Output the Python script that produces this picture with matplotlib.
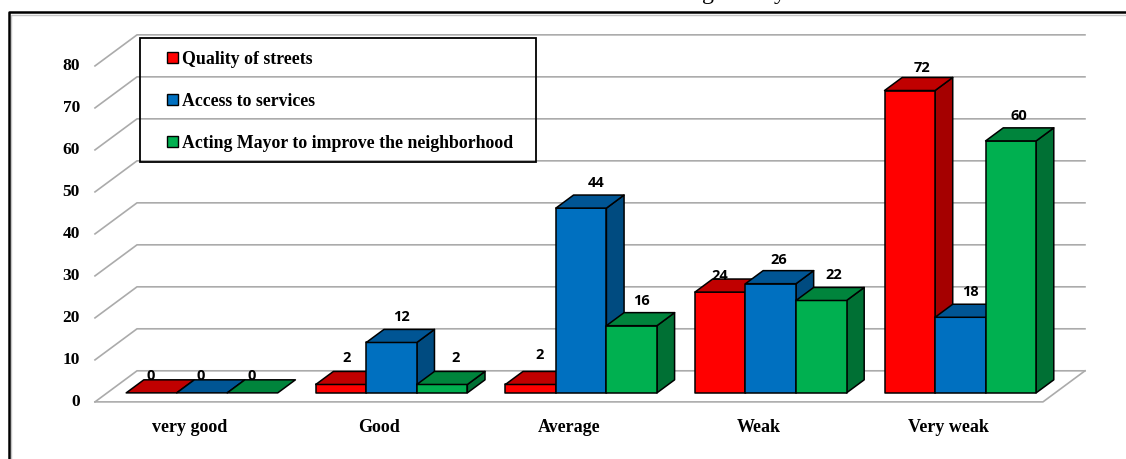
import matplotlib
matplotlib.use('Agg')
import matplotlib.pyplot as plt
from matplotlib.lines import Line2D
from matplotlib.patches import Patch, Polygon, Rectangle

categories = ['very good', 'Good', 'Average', 'Weak', 'Very weak']
streets = [0, 2, 2, 24, 72]
services = [0, 12, 44, 26, 18]
mayor = [0, 2, 16, 22, 60]
y_ticks = [0, 10, 20, 30, 40, 50, 60, 70, 80]

series_names = ['Quality of streets', 'Access to services',
                'Acting Mayor to improve the neighborhood']
front_colors = ['#FF0000', '#0070C0', '#00B050']
top_colors = ['#C00000', '#005594', '#00843C']
side_colors = ['#A50000', '#004B80', '#007034']

# the floor runs back by this much in data units
DEPTH_X = 0.2216
DEPTH_Y = 7.4
BAR_WIDTH = 0.2665
BAR_NEAR = 0.29
BAR_FAR = 0.71

GRID = '#ababab'
SERIF = 'Liberation Serif'

# hand-placed data labels, (dx, dy) in points from the bar's top front edge,
# keyed by (category, series)
label_nudge = {
    (0, 0): (-0.7, 12), (0, 1): (-0.7, 12), (0, 2): (-0.7, 12),
    (1, 0): (4.3, 19.4), (1, 1): (7, 18), (1, 2): (10, 19),
    (2, 0): (6.5, 21), (2, 1): (11, 18), (2, 2): (7, 18),
    (3, 0): (0, 11.5), (3, 1): (6, 17), (3, 2): (9, 18),
    (4, 0): (9, 16.5), (4, 1): (7, 18), (4, 2): (6, 18),
}


def project(x, value, depth):
    return x + depth * DEPTH_X, value + depth * DEPTH_Y


def draw_walls(ax):
    x_start, x_end = -0.5, 4.5
    for tick in y_ticks:
        back_left = project(x_start, tick, 1)
        back_right = project(x_end, tick, 1)
        ax.plot([x_start, back_left[0], back_right[0]],
                [tick, back_left[1], back_right[1]],
                color=GRID, lw=1.2, zorder=1)
        ax.text(x_start - 0.08, tick, str(tick), family=SERIF,
                weight='bold', fontsize=12.5, ha='right', va='center')
    floor_right = project(x_end, 0, 1)
    ax.plot([x_start, x_end, floor_right[0]], [0, 0, floor_right[1]],
            color=GRID, lw=1.2, zorder=1)


def draw_bar(ax, left, value, index):
    right = left + BAR_WIDTH
    fl = project(left, 0, BAR_NEAR)
    fr = project(right, 0, BAR_NEAR)
    tl = project(left, value, BAR_NEAR)
    tr = project(right, value, BAR_NEAR)
    bl = project(left, value, BAR_FAR)
    br = project(right, value, BAR_FAR)
    floor_back = project(right, 0, BAR_FAR)
    style = dict(edgecolor='black', lw=1.1, joinstyle='round', zorder=3)
    if value > 0:
        ax.add_patch(Polygon([fr, tr, br, floor_back],
                             facecolor=side_colors[index], **style))
        ax.add_patch(Polygon([fl, fr, tr, tl],
                             facecolor=front_colors[index], **style))
    ax.add_patch(Polygon([tl, tr, br, bl],
                         facecolor=top_colors[index], **style))
    return (left + right) / 2 + BAR_NEAR * DEPTH_X, value + BAR_NEAR * DEPTH_Y


def draw_bars(ax):
    for cat in range(len(categories)):
        for index, values in enumerate([streets, services, mayor]):
            left = cat + (index - 1.5) * BAR_WIDTH
            # anchor on the front edge of the top face
            center, top = draw_bar(ax, left, values[cat], index)
            ax.annotate(str(values[cat]), (center, top),
                        xytext=label_nudge[(cat, index)],
                        textcoords='offset points', ha='center', va='center',
                        family='Open Sans', weight='bold', fontsize=10.5,
                        zorder=5)
        ax.text(cat, -6, categories[cat], family=SERIF, weight='bold',
                fontsize=13, ha='center', va='center')


def draw_legend(ax):
    ax.add_patch(Rectangle((0.1243, 0.647), 0.352, 0.270, transform=ax.transAxes,
                           facecolor='none', edgecolor='black', lw=1.3, zorder=6))
    handles = [Patch(facecolor=c, edgecolor='black', lw=1) for c in front_colors]
    legend = ax.legend(handles, series_names, loc='upper left',
                       bbox_to_anchor=(0.1485, 0.889), frameon=False,
                       handlelength=0.6, handleheight=0.6,
                       handletextpad=0.25, borderpad=0, borderaxespad=0,
                       labelspacing=1.4,
                       prop=dict(family=SERIF, weight='bold', size=12.8))
    legend.set_zorder(6)


def draw_frame(fig):
    fig.add_artist(Line2D([0.0098, 0.0098, 1], [0, 0.9684, 0.9684],
                          transform=fig.transFigure, color='#c4c4c4', lw=1))
    fig.add_artist(Line2D([0.008, 0.008, 1], [0, 0.9728, 0.9728],
                          transform=fig.transFigure, color='black', lw=1.8))


def main():
    fig = plt.figure(figsize=(11.26, 4.59), dpi=100)
    ax = fig.add_axes([0, 0, 1, 1])
    ax.set_xlim(-1.001, 4.938)
    ax.set_ylim(-13.6, 95.7)
    ax.axis('off')

    draw_walls(ax)
    draw_bars(ax)
    draw_legend(ax)
    draw_frame(fig)

    # only the tails of the heading fit on the canvas
    fig.text(0.6235, 1.003, 'g          y', family=SERIF, fontsize=17.3,
             ha='left', va='baseline')

    fig.savefig('out.png', dpi=100)
    plt.close(fig)


if __name__ == '__main__':
    main()
